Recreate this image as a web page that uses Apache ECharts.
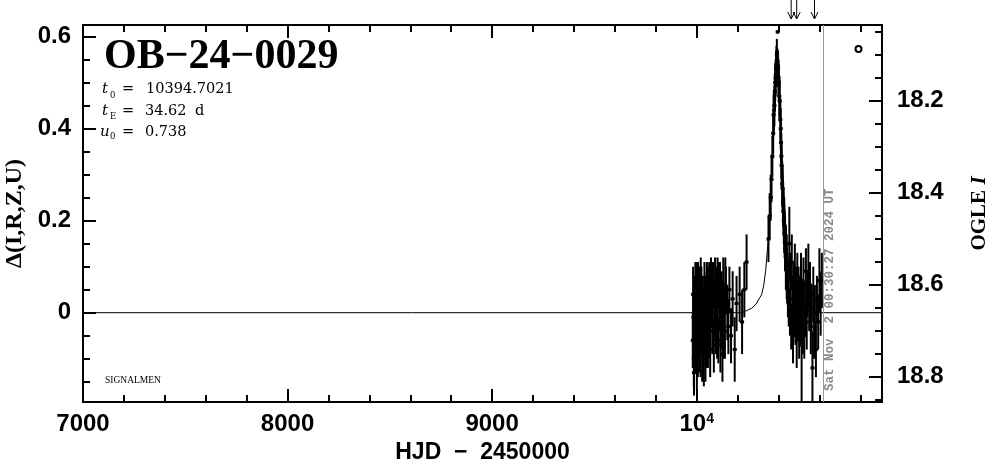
<!DOCTYPE html>
<html>
<head>
<meta charset="utf-8">
<script src="https://cdn.jsdelivr.net/npm/echarts@6/dist/echarts.min.js"></script>
<style>
html,body{margin:0;padding:0;background:#fff;}
#chart{width:986px;height:459px;}
</style>
</head>
<body>
<div id="chart"></div>
<script>
// ---- Data ----
// 2023 season (baseline)
const s2023T = [
  9981, 9982.5, 9984, 9986, 9987, 9988, 9990, 9992, 9993.5, 9995, 9997, 9998, 9999, 10001, 10002, 10003,
  10005, 10006, 10007, 10009, 10010, 10011, 10013, 10014, 10016, 10018, 10019, 10020, 10022, 10023, 10025,
  10027, 10028, 10030, 10032, 10033, 10035, 10037, 10038, 10041, 10043, 10044, 10047, 10049, 10050, 10053,
  10055, 10056, 10059, 10061, 10062, 10066, 10068, 10070, 10074, 10076, 10078, 10082, 10084, 10086, 10090,
  10092, 10094, 10098, 10100, 10102, 10106, 10108, 10110, 10114, 10116, 10118, 10122, 10124, 10126, 10130,
  10132, 10134, 10138, 10140, 10143, 10150, 10155, 10160, 10168, 10176, 10186, 10195, 10210, 10222, 10233, 10244
];
const s2023D = [
  -0.06, 0.04, -0.01, -0.10, -0.13, 0.03, -0.04, 0.00, 0.06, -0.08, 0.05, -0.06, -0.02, -0.11, 0.05, 0.02,
  -0.05, -0.09, 0.06, -0.03, 0.03, 0.01, -0.07, -0.02, 0.04, -0.02, -0.08, 0.06, -0.04, 0.05, 0.00,
  -0.09, 0.02, 0.03, -0.06, -0.01, -0.11, -0.03, 0.05, -0.03, -0.10, 0.02, -0.06, 0.03, 0.06, -0.02,
  -0.07, 0.04, -0.05, 0.05, 0.01, -0.08, -0.03, 0.07, 0.03, 0.06, -0.04, 0.06, -0.07, 0.00, 0.07,
  0.02, -0.03, 0.05, -0.04, 0.06, -0.06, 0.06, 0.02, 0.06, -0.07, -0.02, 0.04, 0.01, -0.09, 0.06,
  -0.05, 0.01, -0.04, 0.06, 0.05, 0.00, -0.03, 0.05, -0.05, 0.03, -0.08, 0.02, 0.04, -0.02, 0.05, 0.11
];
const s2023E = [
  0.06, 0.06, 0.05, 0.06, 0.05, 0.05, 0.06, 0.05, 0.05, 0.05, 0.06, 0.06, 0.05, 0.06, 0.06, 0.05,
  0.05, 0.05, 0.05, 0.06, 0.06, 0.05, 0.06, 0.05, 0.06, 0.05, 0.06, 0.06, 0.05, 0.05, 0.06,
  0.06, 0.06, 0.05, 0.05, 0.06, 0.05, 0.06, 0.06, 0.05, 0.05, 0.06, 0.06, 0.06, 0.05, 0.05,
  0.05, 0.06, 0.05, 0.06, 0.06, 0.06, 0.06, 0.05, 0.06, 0.05, 0.05, 0.05, 0.06, 0.06, 0.05,
  0.05, 0.06, 0.05, 0.06, 0.06, 0.05, 0.05, 0.06, 0.05, 0.06, 0.06, 0.05, 0.06, 0.06, 0.06,
  0.05, 0.05, 0.06, 0.06, 0.05, 0.06, 0.06, 0.05, 0.06, 0.06, 0.07, 0.06, 0.06, 0.07, 0.06, 0.06
];
// 2024 season (event and after)
const s2024T = [
  10351, 10357, 10362, 10366, 10370, 10374, 10378, 10382, 10386, 10390, 10394, 10396, 10398, 10402, 10406,
  10409, 10412, 10415, 10418, 10422, 10426, 10430, 10434, 10438, 10442,
  10446, 10450, 10453, 10456, 10459, 10462, 10465, 10468, 10471, 10474, 10477, 10480, 10483, 10486, 10489,
  10492, 10495, 10498, 10501, 10504, 10507, 10510, 10513, 10516, 10519, 10522, 10526, 10530, 10534, 10538,
  10542, 10546, 10550, 10554, 10558, 10562, 10566, 10570, 10574, 10578, 10583, 10588, 10594, 10600, 10606, 10612,
  10376, 10380, 10384, 10388, 10392, 10400, 10404, 10411, 10414, 10420, 10424, 10428, 10432, 10436, 10440
];
const s2024D = [
  0.16, 0.21, 0.25, 0.29, 0.34, 0.39, 0.44, 0.48, 0.51, 0.54, 0.545, 0.61, 0.53, 0.50, 0.46,
  0.42, 0.37, 0.32, 0.28, 0.24, 0.20, 0.17, 0.14, 0.11, 0.08,
  0.05, 0.02, 0.15, 0.00, 0.07, -0.03, 0.11, 0.03, -0.05, 0.06, 0.01, 0.09, -0.02, 0.04, -0.06,
  0.08, 0.00, 0.05, -0.04, 0.03, -0.01, 0.07, -0.07, 0.02, -0.03, 0.06, -0.05, 0.01, 0.09, -0.02,
  0.04, 0.08, 0.02, 0.06, -0.03, 0.01, -0.12, 0.04, -0.05, 0.00, -0.08, 0.03, -0.02, 0.07, 0.02, 0.07,
  0.43, 0.45, 0.50, 0.53, 0.56, 0.51, 0.47, 0.40, 0.34, 0.27, 0.22, 0.19, 0.15, 0.12, 0.10
];
const s2024E = [
  0.05, 0.05, 0.05, 0.05, 0.045, 0.045, 0.045, 0.04, 0.04, 0.04, 0.03, 0.004, 0.04, 0.04, 0.045,
  0.045, 0.045, 0.05, 0.05, 0.05, 0.05, 0.05, 0.05, 0.06, 0.06,
  0.06, 0.05, 0.08, 0.05, 0.06, 0.05, 0.06, 0.05, 0.06, 0.05, 0.06, 0.06, 0.05, 0.06, 0.06,
  0.05, 0.06, 0.05, 0.06, 0.05, 0.06, 0.06, 0.13, 0.05, 0.06, 0.06, 0.05, 0.06, 0.05, 0.06,
  0.05, 0.07, 0.06, 0.05, 0.06, 0.05, 0.08, 0.06, 0.05, 0.06, 0.06, 0.05, 0.06, 0.07, 0.07, 0.06,
  0.045, 0.045, 0.04, 0.04, 0.035, 0.04, 0.045, 0.045, 0.05, 0.05, 0.05, 0.06, 0.06, 0.07, 0.07
];
// model curve
const modelT = [7000, 10220, 10242, 10270, 10291, 10305, 10318, 10328, 10337, 10352, 10361, 10371, 10381, 10390, 10394.7,
                10399.4, 10408.4, 10418.4, 10428.4, 10437.4, 10452.4, 10461.4, 10471.8, 10484.4, 10498.4, 10519.4, 10547.4, 10570, 10906];
const modelD = [0, 0, 0.004, 0.01, 0.019, 0.03, 0.04, 0.06, 0.09, 0.17, 0.25, 0.33, 0.43, 0.52, 0.555,
                0.52, 0.43, 0.33, 0.25, 0.17, 0.09, 0.06, 0.04, 0.03, 0.019, 0.01, 0.004, 0, 0];
const arrowT = [10462, 10489, 10576];
const nowT = 10616.5;
const nowLabel = 'Sat Nov  2 00:30:27 2024 UT';
const xMajor = [7000, 8000, 9000, 10000];
const xMinor = [7200, 7400, 7600, 7800, 8200, 8400, 8600, 8800, 9200, 9400, 9600, 9800, 10200, 10400, 10600, 10800];
const yMajor = [0, 0.2, 0.4, 0.6];
const yMinor = [-0.15, -0.1, -0.05, 0.05, 0.1, 0.15, 0.25, 0.3, 0.35, 0.45, 0.5, 0.55];
const magMajor = [18.2, 18.4, 18.6, 18.8];
const magMinor = [18.05, 18.1, 18.15, 18.25, 18.3, 18.35, 18.45, 18.5, 18.55, 18.65, 18.7, 18.75, 18.85];
const xLimits = [7000, 10906];
const yLimits = [-0.194, 0.625];
const magLimits = [18.036, 18.855];
const titleText = 'OB\u221224\u22120029';
const t0Text = '10394.7021';
const tEText = '34.62';
const u0Text = '0.738';

// ---- Chart ----
const obsT = s2023T.concat(s2024T);
const obsD = s2023D.concat(s2024D);
const obsE = s2023E.concat(s2024E);

const chart = echarts.init(document.getElementById('chart'));
const black = '#000';
const labFont = {color: black, fontFamily: 'Liberation Sans', fontWeight: 'bold', fontSize: 24};

function xAx(pos, vals, len, main) {
  return {
    type: 'value', position: pos, min: xLimits[0], max: xLimits[1],
    axisLine: {show: true, onZero: false, lineStyle: {color: black, width: 2}},
    axisTick: {show: true, inside: true, length: len, customValues: vals, lineStyle: {color: black, width: 2}},
    axisLabel: main ? Object.assign({
      show: true, customValues: xMajor, margin: 10,
      formatter: v => v === 10000 ? '{b|10}{s|4}' : '{b|' + v + '}',
      rich: {b: Object.assign({}, labFont), s: {color: black, fontFamily: 'Liberation Sans', fontWeight: 'bold', fontSize: 14, verticalAlign: 'top', lineHeight: 24}}
    }, labFont) : {show: false},
    splitLine: {show: false},
    name: main ? 'HJD  \u2212  2450000' : '',
    nameLocation: 'middle', nameGap: 25,
    nameTextStyle: {color: black, fontFamily: 'Liberation Sans', fontWeight: 'bold', fontSize: 23}
  };
}
function yAx(pos, vals, len, main, isMag) {
  const lim = isMag ? magLimits : yLimits;
  const o = {
    type: 'value', position: pos, min: lim[0], max: lim[1], inverse: !!isMag,
    axisLine: {show: true, onZero: false, lineStyle: {color: black, width: 2}},
    axisTick: {show: true, inside: true, length: len, customValues: vals, lineStyle: {color: black, width: 2}},
    axisLabel: main ? Object.assign({
      show: true, customValues: isMag ? magMajor : yMajor, margin: isMag ? 15 : 12,
      formatter: v => (v === 0 ? '0' : v.toFixed(1))
    }, labFont) : {show: false},
    splitLine: {show: false}
  };
  if (main) {
    o.nameLocation = 'middle';
    o.nameRotate = 90;
    if (isMag) {
      o.name = '{a|OGLE }{b|I}';
      o.nameGap = 87;
      o.nameTextStyle = {rich: {
        a: {color: black, fontFamily: 'Liberation Serif', fontWeight: 'bold', fontSize: 21},
        b: {color: black, fontFamily: 'Liberation Serif', fontWeight: 'bold', fontStyle: 'italic', fontSize: 21}
      }};
    } else {
      o.name = '\u0394(I,R,Z,U)';
      o.nameGap = 51;
      o.nameTextStyle = {color: black, fontFamily: 'Liberation Serif', fontWeight: 'bold', fontSize: 24};
    }
  }
  return o;
}

const serif = 'DejaVu Serif';
function txt(x, y, text, size, opts) {
  return {type: 'text', x: x, y: y, silent: true, style: Object.assign({
    text: text, fill: black, font: size + 'px "' + serif + '"', align: 'left', verticalAlign: 'middle'
  }, opts || {})};
}

const option = {
  animation: false,
  backgroundColor: '#fff',
  grid: {left: 83, right: 104, top: 25, bottom: 57, containLabel: false, outerBoundsMode: 'none'},
  xAxis: [xAx('bottom', xMajor, 13, true), xAx('bottom', xMinor, 7, false), xAx('top', xMajor, 13, false), xAx('top', xMinor, 7, false)],
  yAxis: [yAx('left', yMajor, 13, true, false), yAx('left', yMinor, 7, false, false), yAx('right', magMajor, 13, true, true), yAx('right', magMinor, 7, false, true)],
  series: [
    {
      type: 'line', xAxisIndex: 0, yAxisIndex: 0, showSymbol: false, silent: true,
      data: modelT.map((t, i) => [t, modelD[i]]),
      lineStyle: {color: black, width: 1},
      markLine: {
        silent: true, symbol: 'none', label: {show: false},
        lineStyle: {color: '#999', width: 1, type: 'solid'},
        data: [{xAxis: nowT}]
      }
    },
    {
      type: 'custom', xAxisIndex: 0, yAxisIndex: 0, clip: true, silent: true,
      data: obsT.map((t, i) => [t, obsD[i], obsE[i]]),
      renderItem: function (params, api) {
        const x = api.value(0), y = api.value(1), e = api.value(2);
        const lo = api.coord([x, y - e]), hi = api.coord([x, y + e]), c = api.coord([x, y]);
        return {type: 'group', children: [
          {type: 'line', shape: {x1: lo[0], y1: lo[1], x2: hi[0], y2: hi[1]}, style: {stroke: black, lineWidth: 2}},
          {type: 'rect', shape: {x: c[0] - 2, y: c[1] - 1.5, width: 4, height: 3}, style: {fill: black}}
        ]};
      }
    },
    {
      type: 'custom', xAxisIndex: 0, yAxisIndex: 0, clip: false, silent: true,
      data: arrowT.map(t => [t, 0]),
      renderItem: function (params, api) {
        const x = api.coord([api.value(0), 0])[0];
        const top = params.coordSys.y;
        return {type: 'group', children: [
          {type: 'line', shape: {x1: x, y1: top - 25, x2: x, y2: top - 6}, style: {stroke: black, lineWidth: 1}},
          {type: 'polyline', shape: {points: [[x - 3.5, top - 13], [x, top - 6], [x + 3.5, top - 13]]}, style: {stroke: black, lineWidth: 1, fill: null}}
        ]};
      }
    }
  ],
  graphic: [
    {type: 'text', x: 104, y: 57, silent: true, style: {text: titleText, fill: black, font: 'bold 42px "Liberation Serif"', align: 'left', verticalAlign: 'middle'}},
    txt(102, 89, 't', 15, {font: 'italic 15px "' + serif + '"'}),
    txt(110, 96, '0', 8.5),
    txt(122, 89, '=', 14.5),
    txt(146, 89, t0Text, 14.5),
    txt(102, 111, 't', 15, {font: 'italic 15px "' + serif + '"'}),
    txt(110, 117, 'E', 8.5),
    txt(122, 111, '=', 14.5),
    txt(145, 111, tEText, 14.5),
    txt(195, 111, 'd', 14.5),
    txt(100, 132, 'u', 15, {font: 'italic 15px "' + serif + '"'}),
    txt(110, 137, '0', 8.5),
    txt(122, 132, '=', 14.5),
    txt(145, 132, u0Text, 14.5),
    {type: 'text', x: 105, y: 380, silent: true, style: {text: 'SIGNALMEN', fill: black, font: '9.5px "Liberation Serif"', align: 'left', verticalAlign: 'middle'}},
    {type: 'circle', silent: true, shape: {cx: 858.5, cy: 49, r: 3}, style: {stroke: black, lineWidth: 2, fill: '#fff'}},
    {type: 'text', x: 830, y: 391, rotation: Math.PI / 2, silent: true, style: {text: nowLabel, fill: '#8a8a8a', font: 'bold 12.5px "Liberation Mono"', align: 'left', verticalAlign: 'middle'}}
  ]
};
chart.setOption(option);
</script>
</body>
</html>
